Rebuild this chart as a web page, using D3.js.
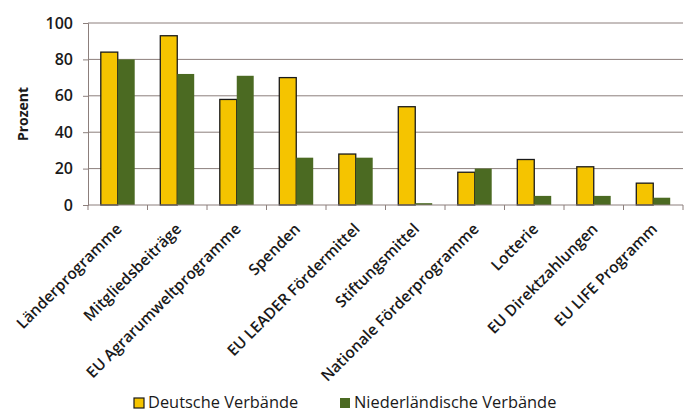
<!DOCTYPE html>
<html>
<head>
<meta charset="utf-8">
<script src="https://cdn.jsdelivr.net/npm/d3@7"></script>
<style>
  body { margin: 0; background: #fff; }
  svg text { font-family: "Open Sans", sans-serif; fill: #1a1a1a; }
</style>
</head>
<body>
<script>
// categories and values (Prozent)
var categories = ["Länderprogramme", "Mitgliedsbeiträge", "EU Agrarumweltprogramme", "Spenden",
  "EU LEADER Fördermittel", "Stiftungsmittel", "Nationale Förderprogramme", "Lotterie",
  "EU Direktzahlungen", "EU LIFE Programm"];
var seriesNames = ["Deutsche Verbände", "Niederländische Verbände"];
var deutsch = [84, 93, 58, 70, 28, 54, 18, 25, 21, 12];
var niederl = [80, 72, 71, 26, 26, 1, 20, 5, 5, 4];
var yTicks = [0, 20, 40, 60, 80, 100];
var colors = ["#f5c400", "#4b6a22"];

var W = 686, H = 414;
var plot = {left: 88, right: 683, top: 23, bottom: 205};

var svg = d3.select("body").append("svg")
    .attr("width", W)
    .attr("height", H);

var x = d3.scaleBand().domain(categories).range([plot.left, plot.right]).padding(0);
var x1 = d3.scaleBand().domain(seriesNames)
    .range([x.bandwidth() * 0.215, x.bandwidth() * 0.785]).padding(0);
var y = d3.scaleLinear().domain([0, 100]).range([plot.bottom, plot.top]);

// gridlines
svg.append("g")
    .selectAll("line")
    .data(yTicks.filter(function(d) { return d > 0; }))
    .enter().append("line")
    .attr("x1", plot.left).attr("x2", plot.right)
    .attr("y1", function(d) { return y(d); })
    .attr("y2", function(d) { return y(d); })
    .attr("stroke", "#8c7f7c")
    .attr("stroke-width", 1);

// y axis
var yAxis = svg.append("g")
    .attr("transform", "translate(" + plot.left + ",0)")
    .call(d3.axisLeft(y).tickValues(yTicks).tickSize(5).tickPadding(10));
yAxis.select(".domain").attr("stroke", "#8c7f7c");
yAxis.selectAll(".tick line").attr("stroke", "#8c7f7c");
yAxis.selectAll(".tick text")
    .style("font-size", "16px")
    .style("font-weight", "600")
    .style("font-family", "Open Sans, sans-serif")
    .attr("fill", "#1a1a1a");

svg.append("text")
    .attr("transform", "translate(28," + (plot.top + plot.bottom) / 2 + ") rotate(-90)")
    .attr("text-anchor", "middle")
    .style("font-size", "14px")
    .style("font-weight", "bold")
    .text("Prozent");

// bars
var rows = categories.map(function(c, i) {
  return {cat: c, vals: [
    {name: seriesNames[0], v: deutsch[i], k: 0},
    {name: seriesNames[1], v: niederl[i], k: 1}
  ]};
});

var groups = svg.append("g").selectAll("g")
    .data(rows)
    .enter().append("g")
    .attr("transform", function(d) { return "translate(" + x(d.cat) + ",0)"; });

groups.selectAll("rect")
    .data(function(d) { return d.vals; })
    .enter().append("rect")
    .attr("x", function(d) { return x1(d.name); })
    .attr("width", x1.bandwidth())
    .attr("y", function(d) { return y(d.v); })
    .attr("height", function(d) { return y(0) - y(d.v); })
    .attr("fill", function(d) { return colors[d.k]; })
    .attr("stroke", function(d) { return d.k === 0 ? "#1a1a1a" : "none"; })
    .attr("stroke-width", 1.3);

// x axis (ticks at band boundaries)
var xAxis = svg.append("g")
    .attr("transform", "translate(0," + plot.bottom + ")");
xAxis.append("line")
    .attr("x1", plot.left).attr("x2", plot.right)
    .attr("stroke", "#8c7f7c");
xAxis.selectAll(".bt")
    .data(categories.concat(["end"]))
    .enter().append("line")
    .attr("class", "bt")
    .attr("x1", function(d, i) { return plot.left + i * x.step(); })
    .attr("x2", function(d, i) { return plot.left + i * x.step(); })
    .attr("y1", 0).attr("y2", 5)
    .attr("stroke", "#8c7f7c");

xAxis.selectAll(".lbl")
    .data(categories)
    .enter().append("text")
    .attr("class", "lbl")
    .attr("text-anchor", "end")
    .attr("transform", function(d) {
      return "translate(" + (x(d) + x.bandwidth() / 2 + 5) + ",25) rotate(-45)";
    })
    .style("font-size", "15.5px")
    .style("font-weight", "600")
    .text(function(d) { return d; });

// legend
var legendX = [134, 340];
var legend = svg.append("g").selectAll("g")
    .data(seriesNames)
    .enter().append("g")
    .attr("transform", function(d, i) { return "translate(" + legendX[i] + ",398)"; });
legend.append("rect")
    .attr("width", 10).attr("height", 10)
    .attr("fill", function(d, i) { return colors[i]; })
    .attr("stroke", function(d, i) { return i === 0 ? "#1a1a1a" : "none"; })
    .attr("stroke-width", 1.2);
legend.append("text")
    .attr("x", 14).attr("y", 10)
    .style("font-size", "16.4px")
    .text(function(d) { return d; });
</script>
</body>
</html>
